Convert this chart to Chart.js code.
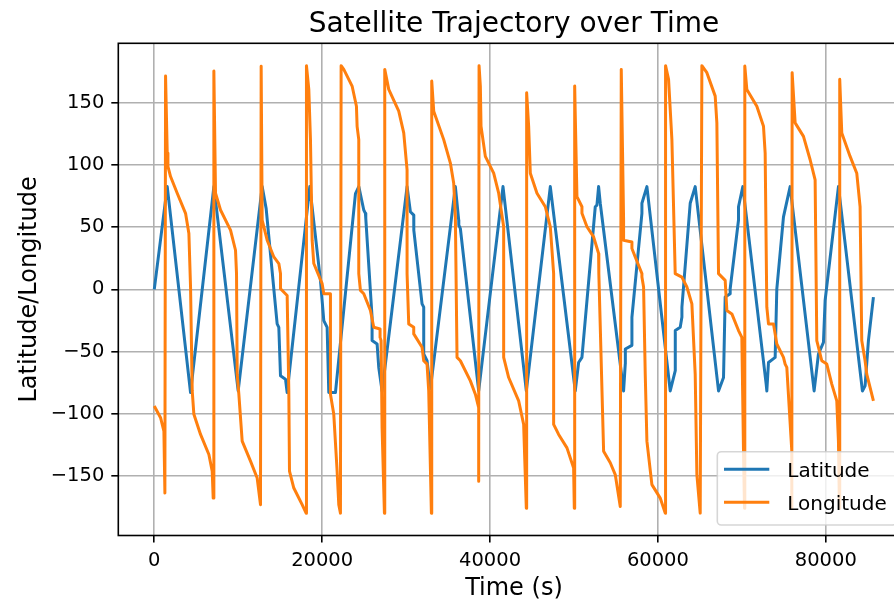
<!DOCTYPE html>
<html>
<head>
<meta charset="utf-8">
<title>Satellite Trajectory over Time</title>
<script src="https://cdn.jsdelivr.net/npm/chart.js@4.4.1/dist/chart.umd.min.js"></script>
<style>
  html, body { margin: 0; padding: 0; background: #fff; overflow: hidden; }
  #wrap { width: 894px; height: 601px; overflow: hidden; }
</style>
</head>
<body>
<div id="wrap"><canvas id="chart" width="912" height="601"></canvas></div>
<script>
// values (time in s, angles in degrees)
const latTime = [
  0, 1545, 4322, 7100, 9997, 12855, 13330, 14640, 14838, 15037,
  15632, 15831, 18528, 19799, 20196, 20593, 20791, 21584, 23969, 24367,
  24958, 25156, 25200, 25949, 25949, 26546, 26744, 27141, 30117, 30513,
  30911, 30920, 31902, 32101, 32101, 32497, 32894, 35871, 36268, 36280,
  36466, 38649, 41546, 44324, 47181, 50157, 50554, 50951, 52538, 52737,
  52935, 53133, 55912, 56110, 56120, 56904, 56904, 58095, 58095, 58690,
  61467, 62062, 62070, 62658, 62857, 62860, 63848, 64443, 67222, 67817,
  68015, 68610, 68610, 69603, 69603, 70118, 72897, 72976, 73174, 73968,
  74167, 74960, 75753, 78611, 79127, 79722, 79920, 81508, 84365, 84682,
  85080, 85675
];
const latValues = [
  0, 82.7, -83, 82.7, -81.7, 82.7, 65, -27.8, -30.5, -69.5,
  -72.2, -83, 82.7, 7.3, -25.1, -30.5, -83, -83, 77, 82.7,
  63.9, 61.2, 57, -22.4, -41.2, -43.9, -62.8, -81.7, 82.7, 62.5,
  59.8, 47.7, -11.6, -14.3, -52, -57.4, -80, 82.7, 55.8, 51.8,
  49, -81.7, 82.7, -81.7, 82.7, -81.7, -58.8, -54.7, 66.5, 67.8,
  82.7, 69.3, -81.7, -60.1, -48, -45, -22.4, 61.2, 69.3, 82.7,
  -81.7, -65.5, -33.1, -30.5, -22.4, -14.3, 69.3, 82.7, -81.7, -70.9,
  -6.2, -3.5, 0.5, 55.8, 66.5, 82.7, -76.2, -81.7, -58.8, -54.7,
  0.5, 58.4, 82.7, -81.7, -52, -42.6, -8.9, 82.7, -81.7, -77.6,
  -41.2, -6.2
];
const lonTime = [
  0, 750, 1147, 1266, 1345, 1545, 1625, 1941, 2735, 3727,
  4124, 4322, 4521, 4719, 5512, 6505, 6902, 7020, 7100, 7298,
  7893, 9084, 9679, 9799, 9878, 10076, 10474, 11465, 12259, 12655,
  12734, 12855, 13450, 14243, 14838, 15037, 15037, 15831, 16029, 16109,
  16624, 17617, 18093, 18131, 18410, 18608, 18807, 19005, 19998, 20196,
  20989, 20989, 21386, 21784, 21982, 22180, 22260, 22577, 23569, 24085,
  24165, 24363, 24363, 24561, 24958, 25751, 26148, 26900, 26900, 27021,
  27141, 27419, 27458, 27934, 29125, 29720, 30117, 30117, 30315, 30911,
  30911, 31902, 32101, 32497, 32696, 33014, 33055, 33292, 34482, 35276,
  35673, 35871, 36070, 36466, 37657, 38252, 38649, 38649, 38693, 38847,
  38927, 39442, 40435, 41030, 41625, 41625, 42221, 43411, 44006, 44324,
  44363, 44602, 44800, 45593, 46586, 47181, 47578, 47578, 48173, 49166,
  49959, 50039, 50085, 50157, 50356, 50951, 50951, 51547, 52340, 52935,
  52950, 52977, 53531, 54324, 54919, 55514, 55634, 55912, 55912, 56904,
  56904, 57300, 58095, 58095, 58293, 58491, 58690, 59285, 60277, 60872,
  60911, 61269, 61666, 62062, 62857, 63452, 64047, 64443, 64643, 65039,
  65238, 65833, 66825, 67024, 67222, 68015, 68214, 68809, 69603, 70000,
  70198, 70316, 70353, 70594, 71785, 72579, 72777, 72976, 73174, 73770,
  74167, 74960, 75158, 75357, 75953, 75953, 75991, 76349, 77341, 78135,
  78730, 78928, 79524, 80119, 80715, 81310, 81508, 81626, 81661, 81904,
  82897, 83690, 84087, 84285, 84682, 84880, 85675
];
const lonValues = [
  -93.8, -103.2, -114, -163.9, 171.6, 109.7, 99, 90.8, 77.4, 61.2,
  45, 1.9, -81.7, -100.5, -116.7, -132.8, -146.3, -167.9, 175.7, 77.4,
  63.9, 47.7, 31.5, 12.7, -68.2, -84.3, -122.1, -138.2, -151.7, -173.2,
  179.5, 55.8, 39.6, 26.1, 20.8, 12.7, 0.5, -4.9, -81.7, -146.3,
  -159.8, -173.2, -180, 180, 160.9, 120.5, 39.6, 20.8, 4.6, -3.5,
  -3.5, -84.3, -100.5, -146.3, -173.2, -180, 180, 177, 163.6, 147.4,
  131.2, 120.5, 12.7, -0.8, -3.5, -17, -30.5, -31.8, -38.6, -41.2,
  -111.3, -180, 177, 160.9, 143.4, 125.9, 96.2, 12.7, -27.8, -30.5,
  -35.8, -46.6, -57.4, -60.1, -81.7, -180, 167.6, 143.4, 120.5, 101.6,
  85.4, 58.4, -54.7, -57.4, -73.6, -84.3, -95.1, -154.4, 180, 163.6,
  131.2, 107, 93.5, 77.4, 50.4, -54.7, -70.9, -89.7, -108.6, -176,
  158.2, 131.2, 93.5, 77.4, 66.5, 50.4, 12.7, -108.6, -116.7, -127.5,
  -143.7, -176, 163.6, 139.3, 74.6, 66.5, 61.2, 50.4, 42.3, 28.9,
  20.8, 12.7, -130.2, -139.5, -149, -174.6, 177, 55.8, 39.6, 38.2,
  32.9, 26.1, 12.7, 9.9, 1.9, -68.2, -122.1, -157.1, -167.9, -180,
  180, 169, 120.5, 12.7, 9.9, 1.9, -11.6, -68.2, -149, -180,
  180, 174.4, 155.5, 134, 12.7, 7.3, -17, -19.7, -33.1, -38.6,
  -130.2, -176, 179.7, 160.9, 147.4, 131.2, 109.7, -14.3, -27.8, -27.8,
  -43.9, -54.7, -60.1, -62.8, -130.2, -176, 174.4, 134, 123.1, 104.3,
  88.1, -41.2, -57.4, -60.1, -76.2, -89.7, -122.1, -176, 169, 125.9,
  107, 93.5, 66.5, -41.2, -57.4, -68.2, -89.7
];
const seriesNames = ["Latitude", "Longitude"];
const xTickValues = [0, 20000, 40000, 60000, 80000];
const yTickValues = [-150, -100, -50, 0, 50, 100, 150];

const FONT = "'DejaVu Sans', sans-serif";
const colors = ["#1f77b4", "#ff7f0e"];

function toPoints(xs, ys) {
  return xs.map((x, i) => ({ x: x, y: ys[i] }));
}

// matplotlib uses a real minus sign on negative ticks
function fmtTick(value) {
  return value < 0 ? "\u2212" + Math.abs(value) : String(value);
}

const framePlugin = {
  id: "frame",
  afterDatasetsDraw(chart) {
    const { ctx, chartArea: a } = chart;
    ctx.save();
    ctx.strokeStyle = "#000";
    ctx.lineWidth = 1.6;
    ctx.strokeRect(a.left, a.top, a.right - a.left, a.bottom - a.top);

    // legend, lower right
    const R = a.right, B = a.bottom;
    const bx = R - 192.3, by = B - 83.8, bw = 179.3, bh = 73.3, r = 4;
    ctx.beginPath();
    ctx.roundRect(bx, by, bw, bh, r);
    ctx.fillStyle = "rgba(255,255,255,0.8)";
    ctx.fill();
    ctx.strokeStyle = "rgba(204,204,204,0.8)";
    ctx.lineWidth = 1.6;
    ctx.stroke();
    const rows = [B - 66.2, B - 33.2];
    ctx.font = "20px " + FONT;
    ctx.textBaseline = "alphabetic";
    ctx.textAlign = "left";
    seriesNames.forEach((name, i) => {
      ctx.beginPath();
      ctx.moveTo(R - 185.6, rows[i]);
      ctx.lineTo(R - 140.3, rows[i]);
      ctx.strokeStyle = colors[i];
      ctx.lineWidth = 3;
      ctx.stroke();
      ctx.fillStyle = "#000";
      ctx.fillText(name, R - 122.3, rows[i] + 7.4);
    });
    ctx.restore();
  },
  afterDraw(chart) {
    const { ctx, chartArea: a } = chart;
    ctx.save();
    ctx.font = "28px " + FONT;
    ctx.fillStyle = "#000";
    ctx.textAlign = "center";
    ctx.textBaseline = "alphabetic";
    ctx.fillText("Satellite Trajectory over Time", (a.left + a.right) / 2, 31.7);
    ctx.restore();
  }
};

const gridOpts = {
  color: "#b0b0b0",
  lineWidth: 1.6,
  tickColor: "#000",
  tickWidth: 1.6,
  tickLength: 7
};

new Chart(document.getElementById("chart"), {
  type: "scatter",
  data: {
    datasets: [
      {
        label: seriesNames[0],
        data: toPoints(latTime, latValues),
        showLine: true,
        borderColor: colors[0],
        borderWidth: 3,
        pointRadius: 0,
        borderJoinStyle: "round",
        order: 1
      },
      {
        label: seriesNames[1],
        data: toPoints(lonTime, lonValues),
        showLine: true,
        borderColor: colors[1],
        borderWidth: 3,
        pointRadius: 0,
        borderJoinStyle: "round",
        order: 0
      }
    ]
  },
  options: {
    responsive: false,
    animation: false,
    events: [],
    layout: { padding: { top: 43.3, left: 0, right: 2.4, bottom: 0 } },
    plugins: {
      legend: { display: false },
      tooltip: { enabled: false },
      title: { display: false }
    },
    scales: {
      x: {
        type: "linear",
        min: -4285,
        max: 89985,
        afterFit: (s) => { s.height = 65.5; },
        afterBuildTicks: (s) => { s.ticks = xTickValues.map((v) => ({ value: v })); },
        ticks: {
          maxRotation: 0,
          autoSkip: false,
          padding: 7,
          color: "#000",
          font: { family: FONT, size: 19.5 },
          callback: fmtTick
        },
        grid: gridOpts,
        border: { display: false },
        title: {
          display: true,
          text: "Time (s)",
          color: "#000",
          font: { family: FONT, size: 24, lineHeight: 1 },
          padding: { top: 0, bottom: 0 }
        }
      },
      y: {
        type: "linear",
        min: -198,
        max: 198,
        afterFit: (s) => { s.width = 118.3; },
        afterBuildTicks: (s) => { s.ticks = yTickValues.map((v) => ({ value: v })); },
        ticks: {
          padding: 7,
          color: "#000",
          font: { family: FONT, size: 19.5 },
          callback: fmtTick
        },
        grid: gridOpts,
        border: { display: false },
        title: {
          display: true,
          text: "Latitude/Longitude",
          color: "#000",
          font: { family: FONT, size: 24, lineHeight: 1 },
          padding: { top: 17.5, bottom: 0 }
        }
      }
    }
  },
  plugins: [framePlugin]
});
</script>
</body>
</html>
